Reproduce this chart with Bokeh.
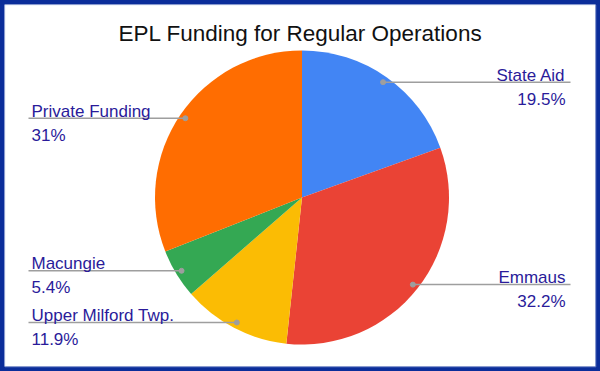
import numpy as np
from bokeh.plotting import figure
from bokeh.models import Range1d, ColumnDataSource, BoxAnnotation
from bokeh.core.properties import value
from bokeh.embed import file_html
from bokeh.resources import INLINE

title = "EPL Funding for Regular Operations"
categories = ["State Aid", "Emmaus", "Upper Milford Twp.", "Macungie", "Private Funding"]
values = [19.5, 32.2, 11.9, 5.4, 31.0]
pct_labels = ["19.5%", "32.2%", "11.9%", "5.4%", "31%"]
colors = ["#4285F4", "#EA4335", "#FBBC04", "#34A853", "#FF6D01"]

W, H = 600, 371
cx, cy, R = 301.5, 174.0, 147.0
dot_r = 141.0
text_color = "#2a1b9a"
font = value("Liberation Sans")

p = figure(width=W, height=H, output_backend="svg", toolbar_location=None,
           x_range=Range1d(0, W), y_range=Range1d(0, H),
           x_axis_location=None, y_axis_location=None, min_border=0,
           background_fill_color="white", border_fill_color="white")
p.grid.visible = False
p.outline_line_color = "#0b2d9a"
p.outline_line_width = 8

frac = np.array(values) / sum(values)
cum = np.cumsum(frac)
before = cum - frac
start = np.pi / 2 - 2 * np.pi * cum
end = np.pi / 2 - 2 * np.pi * before
mid = np.pi / 2 - 2 * np.pi * (before + frac / 2)

src = ColumnDataSource(dict(start=start, end=end, color=colors))
p.wedge(x=cx, y=cy, radius=R, start_angle="start", end_angle="end",
        fill_color="color", line_color=None, source=src)

dotx = cx + np.cos(mid) * dot_r
doty = cy + np.sin(mid) * dot_r
right = np.cos(mid) > 0
x0 = np.where(right, dotx, 28.0)
x1 = np.where(right, 570.0, dotx)
p.segment(x0=x0, y0=doty, x1=x1, y1=doty, line_color="#9e9e9e", line_width=1.5)
p.scatter(x=dotx, y=doty, size=5, color="#9e9e9e")

tx = np.where(right, 565.0, 31.0)
align = ["right" if r else "left" for r in right]
lsrc = ColumnDataSource(dict(x=tx, yn=doty + 7, yp=doty - 17, name=categories,
                             pct=pct_labels, align=align))
p.text(x="x", y="yn", text="name", text_align="align", text_baseline="alphabetic",
       text_font=font, text_font_size="17px", text_color=text_color, source=lsrc)
p.text(x="x", y="yp", text="pct", text_align="align", text_baseline="alphabetic",
       text_font=font, text_font_size="17px", text_color=text_color, source=lsrc)

p.text(x=[W / 2], y=[H - 32.5], text=[title], text_align="center", text_baseline="alphabetic",
       text_font=font, text_font_size="22.5px", text_color="#111111")

p.add_layout(BoxAnnotation(left=4.5, right=W - 4.5, bottom=4.5, top=H - 4.5,
                           fill_alpha=0, line_color="#aab8e0", line_width=1))

open("out.html", "w").write(file_html(p, INLINE))
